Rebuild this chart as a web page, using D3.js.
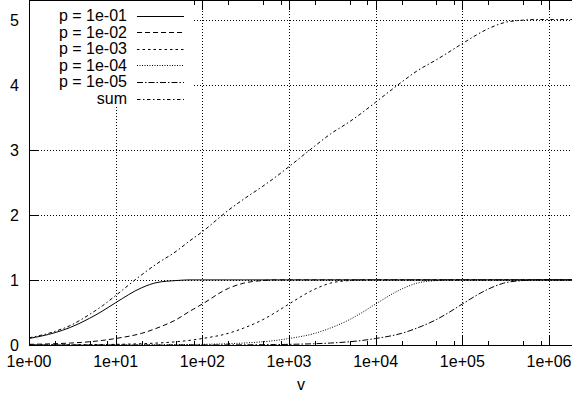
<!DOCTYPE html>
<html>
<head>
<meta charset="utf-8">
<script src="https://cdn.jsdelivr.net/npm/d3@7"></script>
<style>
	body { margin: 0; background: #fff; }
	svg { display: block; font-family: "Liberation Sans", Arial, Helvetica, sans-serif; }
</style>
</head>
<body>
<div id="chart"></div>
<script>
// sample points along v (log axis)
var vs = [1, 2, 3, 5, 7, 10, 20, 30, 50, 70, 100, 200, 300, 500, 700,
	1e3, 2e3, 3e3, 5e3, 7e3, 1e4, 2e4, 3e4, 5e4, 7e4, 1e5, 2e5, 3e5, 5e5, 7e5, 1e6, 1.9e6];

var p1 = [0.10, 0.19, 0.27, 0.41, 0.52, 0.65, 0.88, 0.96, 0.99, 1.00, 1.00, 1.00, 1.00, 1.00, 1.00,
	1.00, 1.00, 1.00, 1.00, 1.00, 1.00, 1.00, 1.00, 1.00, 1.00, 1.00, 1.00, 1.00, 1.00, 1.00, 1.00, 1.00];
var p2 = [0.01, 0.02, 0.03, 0.05, 0.07, 0.10, 0.18, 0.26, 0.39, 0.51, 0.63, 0.87, 0.95, 0.99, 1.00,
	1.00, 1.00, 1.00, 1.00, 1.00, 1.00, 1.00, 1.00, 1.00, 1.00, 1.00, 1.00, 1.00, 1.00, 1.00, 1.00, 1.00];
var p3 = [0.001, 0.002, 0.003, 0.005, 0.007, 0.01, 0.02, 0.03, 0.05, 0.07, 0.10, 0.18, 0.26, 0.39, 0.50,
	0.63, 0.86, 0.95, 0.99, 1.00, 1.00, 1.00, 1.00, 1.00, 1.00, 1.00, 1.00, 1.00, 1.00, 1.00, 1.00, 1.00];
var p4 = [0, 0, 0, 0.001, 0.001, 0.001, 0.002, 0.003, 0.005, 0.007, 0.01, 0.02, 0.03, 0.05, 0.07,
	0.10, 0.18, 0.26, 0.39, 0.50, 0.63, 0.86, 0.95, 0.99, 1.00, 1.00, 1.00, 1.00, 1.00, 1.00, 1.00, 1.00];
var p5 = [0, 0, 0, 0, 0, 0, 0, 0, 0.001, 0.001, 0.001, 0.002, 0.003, 0.005, 0.007,
	0.01, 0.02, 0.03, 0.05, 0.07, 0.10, 0.18, 0.26, 0.39, 0.50, 0.63, 0.86, 0.95, 0.99, 1.00, 1.00, 1.00];
var sum = [0.11, 0.21, 0.30, 0.47, 0.60, 0.76, 1.08, 1.25, 1.44, 1.59, 1.74, 2.07, 2.24, 2.44, 2.58,
	2.74, 3.06, 3.24, 3.43, 3.57, 3.73, 4.04, 4.21, 4.38, 4.50, 4.63, 4.86, 4.95, 4.99, 5.00, 5.00, 5.00];

var seriesNames = ["p = 1e-01", "p = 1e-02", "p = 1e-03", "p = 1e-04", "p = 1e-05", "sum"];
var seriesValues = [p1, p2, p3, p4, p5, sum];
var dashes = [null, "5,3", "2.5,3", "1,1.5", "6,2,1.5,2", "3.5,2.5,1.5,2.5"];

var xTicks = [1, 1e1, 1e2, 1e3, 1e4, 1e5, 1e6];
var xTickLabels = ["1e+00", "1e+01", "1e+02", "1e+03", "1e+04", "1e+05", "1e+06"];
var yTicks = [0, 1, 2, 3, 4, 5];

var width = 572, height = 397;
// note: "top" is window.top, so plot edges get their own names
var pLeft = 29, pRight = 574, pTop = 0.5, pBottom = 345;

var x = d3.scaleLog().domain([1, 1e6]).range([pLeft, 549]);
var y = d3.scaleLinear().domain([0, 5]).range([pBottom, 19.5]);

var svg = d3.select("#chart").append("svg")
	.attr("width", width)
	.attr("height", height);

// grid
var grid = svg.append("g")
	.attr("stroke", "#000")
	.attr("stroke-width", 1)
	.attr("stroke-dasharray", "1,2")
	.attr("shape-rendering", "crispEdges");

grid.selectAll(".vx")
	.data(xTicks.slice(1))
	.enter().append("line")
		.attr("x1", (d) => Math.round(x(d)) + 0.5)
		.attr("x2", (d) => Math.round(x(d)) + 0.5)
		.attr("y1", pBottom)
		.attr("y2", pTop);

grid.selectAll(".hy")
	.data(yTicks.slice(1))
	.enter().append("line")
		.attr("x1", pLeft)
		.attr("x2", pRight)
		.attr("y1", (d) => Math.round(y(d)) + 0.5)
		.attr("y2", (d) => Math.round(y(d)) + 0.5);

// curves
var line = d3.line()
	.x((d, i) => x(vs[i]))
	.y((d) => y(d))
	.curve(d3.curveMonotoneX);

svg.append("defs").append("clipPath")
	.attr("id", "plotclip")
	.append("rect")
		.attr("x", pLeft).attr("y", pTop)
		.attr("width", pRight - pLeft).attr("height", pBottom - pTop);

svg.append("g")
		.attr("clip-path", "url(#plotclip)")
	.selectAll("path")
	.data(seriesValues)
	.enter().append("path")
		.attr("d", (d) => line(d))
		.attr("fill", "none")
		.attr("stroke", "#000")
		.attr("stroke-width", 1)
		.attr("stroke-dasharray", (d, i) => dashes[i]);

// frame and ticks
var axes = svg.append("g")
	.attr("stroke", "#000")
	.attr("stroke-width", 1)
	.attr("shape-rendering", "crispEdges");

axes.append("rect")
	.attr("x", pLeft + 0.5)
	.attr("y", pTop)
	.attr("width", pRight - pLeft)
	.attr("height", pBottom - pTop)
	.attr("fill", "none");

var minor = [];
xTicks.forEach(function (t) {
	[2, 5, 8].forEach(function (m) {
		if (t * m < 1.9e6) minor.push(t * m);
	});
});

xTicks.forEach(function (t) {
	var px = Math.round(x(t)) + 0.5;
	axes.append("line").attr("x1", px).attr("x2", px).attr("y1", pBottom).attr("y2", pBottom - 9);
	axes.append("line").attr("x1", px).attr("x2", px).attr("y1", pTop).attr("y2", pTop + 9);
});
minor.forEach(function (t) {
	var px = Math.round(x(t)) + 0.5;
	axes.append("line").attr("x1", px).attr("x2", px).attr("y1", pBottom).attr("y2", pBottom - 4);
	axes.append("line").attr("x1", px).attr("x2", px).attr("y1", pTop).attr("y2", pTop + 4);
});
yTicks.forEach(function (t) {
	var py = Math.round(y(t)) + 0.5;
	axes.append("line").attr("x1", pLeft).attr("x2", pLeft + 9).attr("y1", py).attr("y2", py);
});

// tick labels
svg.selectAll(".xl")
	.data(xTicks)
	.enter().append("text")
		.attr("x", (d) => x(d))
		.attr("y", 367)
		.attr("text-anchor", "middle")
		.attr("font-size", 16)
		.text((d, i) => xTickLabels[i]);

svg.selectAll(".yl")
	.data(yTicks)
	.enter().append("text")
		.attr("x", 19)
		.attr("y", (d) => y(d) + 6)
		.attr("text-anchor", "end")
		.attr("font-size", 16)
		.text((d) => d);

svg.append("text")
	.attr("x", 301)
	.attr("y", 390)
	.attr("text-anchor", "middle")
	.attr("font-size", 16)
	.text("v");

// key, opaque box hides the grid behind it
var key = svg.append("g");
key.append("rect")
	.attr("x", pLeft + 1)
	.attr("y", pTop + 0.5)
	.attr("width", 164)
	.attr("height", 106)
	.attr("fill", "#fff");

seriesNames.forEach(function (name, i) {
	var ky = 15.5 + i * 16.6;
	key.append("text")
		.attr("x", 127)
		.attr("y", ky + 5.5)
		.attr("text-anchor", "end")
		.attr("font-size", 16)
		.text(name);
	key.append("line")
		.attr("x1", 137)
		.attr("x2", 184)
		.attr("y1", Math.round(ky) + 0.5)
		.attr("y2", Math.round(ky) + 0.5)
		.attr("stroke", "#000")
		.attr("stroke-width", 1)
		.attr("stroke-dasharray", dashes[i]);
});
</script>
</body>
</html>
